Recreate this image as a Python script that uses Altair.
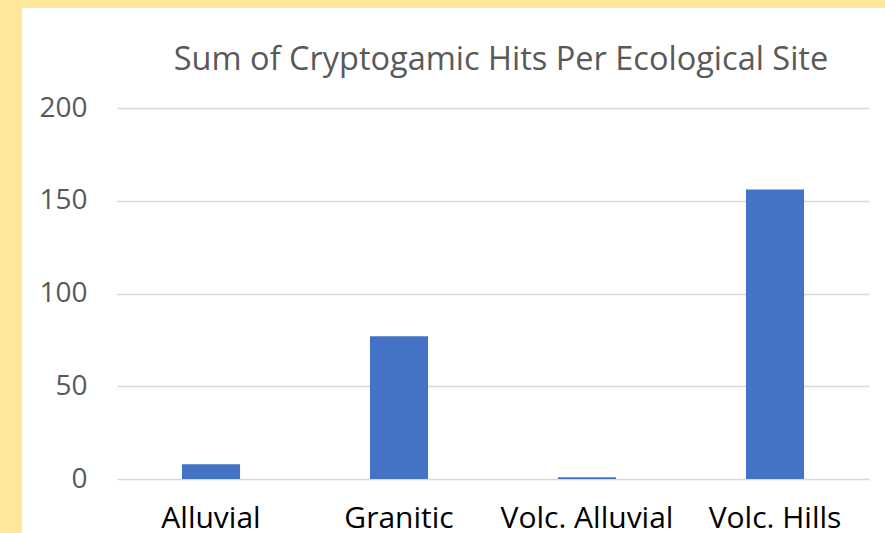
import altair as alt
import pandas as pd

# Ecological sites and their summed cryptogamic hits
sites = ["Alluvial", "Granitic", "Volc. Alluvial", "Volc. Hills"]
hits = [8, 77, 1, 156]
y_ticks = [0, 50, 100, 150, 200]

df = pd.DataFrame({"site": sites, "hits": hits})

W, H = 752, 371
PAD = {"left": 117, "top": 108, "right": 16, "bottom": 54}
FONT = "Open Sans"
FRAME = "#FFE699"

bars = alt.Chart(df).mark_bar(color="#4472C4").encode(
    x=alt.X(
        "site:N",
        sort=sites,
        title=None,
        scale=alt.Scale(paddingInner=0.691, paddingOuter=0.3455),
        axis=alt.Axis(
            labelAngle=0,
            labelFont=FONT,
            labelFontSize=30,
            labelColor="#000000",
            labelBaseline="alphabetic",
            labelPadding=48,
            ticks=False,
            domain=False,
            grid=False,
        ),
    ),
    y=alt.Y(
        "hits:Q",
        title=None,
        scale=alt.Scale(domain=[0, 200], nice=False),
        axis=alt.Axis(
            values=y_ticks,
            labelFont=FONT,
            labelFontSize=28,
            labelColor="#595959",
            labelPadding=30,
            ticks=False,
            domain=False,
            grid=True,
            gridColor="#D9D9D9",
            gridWidth=1.3,
        ),
    ),
)

# Yellow frame strips along the left and top edges
one = pd.DataFrame({"k": [0]})
left_strip = alt.Chart(one).mark_rect(color=FRAME).encode(
    x=alt.value(-PAD["left"]), x2=alt.value(-PAD["left"] + 22),
    y=alt.value(-PAD["top"]), y2=alt.value(H + PAD["bottom"]),
)
top_strip = alt.Chart(one).mark_rect(color=FRAME).encode(
    x=alt.value(-PAD["left"]), x2=alt.value(W + PAD["right"]),
    y=alt.value(-PAD["top"]), y2=alt.value(-PAD["top"] + 8),
)

# The strips reach the top edge, so the title is pulled back down into the chart
chart = alt.layer(bars, left_strip, top_strip).properties(
    width=W,
    height=H,
    padding=PAD,
    autosize=alt.AutoSizeParams(type="none"),
    background="white",
    title=alt.TitleParams(
        "Sum of Cryptogamic Hits Per Ecological Site",
        frame="group",
        anchor="middle",
        baseline="alphabetic",
        offset=-102,
        dx=8,
        font=FONT,
        fontSize=32.5,
        fontWeight="normal",
        color="#595959",
    ),
).configure_view(stroke=None)

chart.save("out.html", embed_options={"renderer": "svg", "actions": False})
